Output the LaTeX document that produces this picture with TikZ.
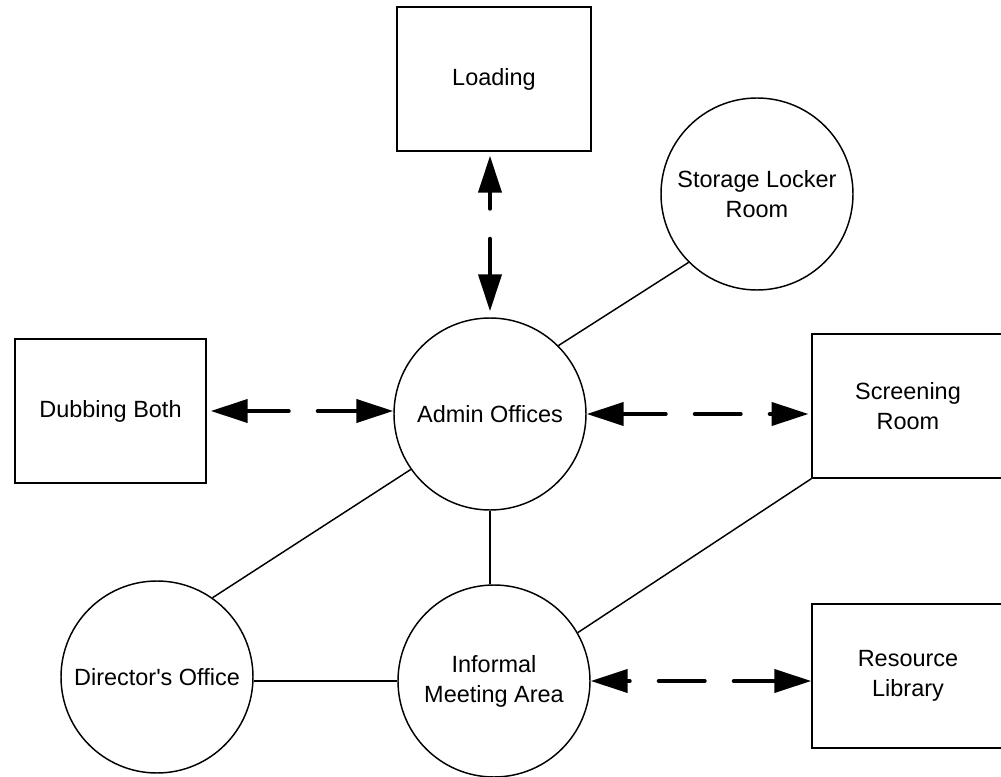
\documentclass[tikz,border=0pt]{standalone}
\usepackage{fontspec}
\setmainfont{Liberation Sans}[Ligatures=TeXOff]
\usetikzlibrary{arrows.meta}

\tikzset{
  room/.style={draw, line width=1.1pt, rectangle, inner sep=0pt,
    minimum width=144pt, minimum height=108pt, align=center,
    font=\fontsize{17.6}{22.5}\selectfont},
  area/.style={draw, line width=1.1pt, circle, inner sep=0pt,
    minimum size=144pt, align=center,
    font=\fontsize{17.6}{22.5}\selectfont},
  link/.style={line width=1.1pt},
  flow/.style={line width=3pt, line cap=round,
    {Triangle[length=27.75pt,width=17.25pt]}-{Triangle[length=27.75pt,width=17.25pt]}}
}

\begin{document}
\begin{tikzpicture}[x=0.75pt, y=-0.75pt]
  \useasboundingbox (0,0) rectangle (1001,777);

  % rooms
  \node[room, minimum width=145.5pt] (loading)   at (494,79)    {Loading};
  \node[area]                         (storage)   at (757,194)   {Storage Locker\\Room};
  \node[area]                         (admin)     at (490,414)   {Admin Offices};
  \node[room, minimum width=143.25pt] (dubbing)   at (110.5,411) {Dubbing Both};
  \node[room]                         (screening) at (908,406)   {Screening\\Room};
  \node[area]                         (director)  at (157,677)   {Director's Office};
  \node[area]                         (informal)  at (494,681)   {Informal\\Meeting Area};
  \node[room]                         (resource)  at (908,676)   {Resource\\Library};

  % adjacencies
  \draw[link] (admin.45) -- (storage.225);
  \draw[link] (admin.215) -- (director.55);
  \draw[link] (admin.south) -- (admin.south |- informal.north);
  \draw[link] (informal.west -| director.east) -- (informal.west);
  \draw[link] (informal.30) -- (screening.south west);

  % access routes
  \draw[flow, shorten <=3pt, shorten >=4.5pt,
        dash pattern=on 12.75pt off 22.5pt on 300pt off 10pt]
    (loading.south -| admin) -- (admin.north);
  \draw[flow, shorten <=3pt,
        dash pattern=on 31.5pt off 21.75pt on 300pt off 10pt]
    (dubbing.east) -- (dubbing.east -| admin.west);
  \draw[flow, shorten >=2pt,
        dash pattern=on 32.25pt off 21.75pt on 34.5pt off 21.75pt on 300pt off 10pt]
    (admin.east) -- (admin.east -| screening.west);
  \draw[flow,
        dash pattern=on 2.25pt off 21.75pt on 34.5pt off 21.75pt on 300pt off 10pt]
    (informal.east) -- (informal.east -| resource.west);
\end{tikzpicture}
\end{document}
